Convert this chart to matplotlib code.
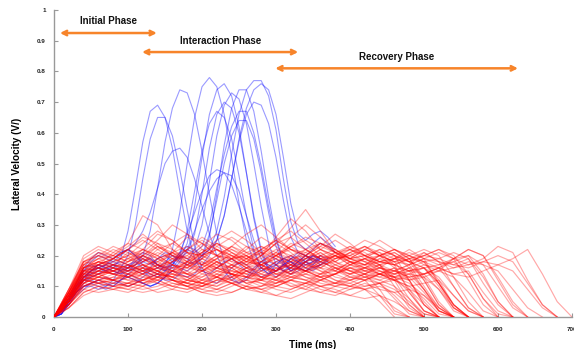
import numpy as np
import matplotlib
matplotlib.use('Agg')
import matplotlib.pyplot as plt

plt.rcParams['font.family'] = ['Liberation Sans', 'DejaVu Sans']
plt.rcParams['font.weight'] = 'bold'

# red trials, sampled every 20 ms from t = 0
red_step = 20
red_runs = [
    [0, .07, .16, .18, .17, .15, .16, .19, .21, .18, .15, .16, .19, .2, .17, .15, .17, .2, .18, .16, .17, .19, .17, .12, .04, 0],
    [0, .05, .13, .15, .14, .13, .15, .17, .16, .14, .13, .15, .17, .15, .13, .14, .16, .15, .13, .14, .16, .14, .09, .02, 0],
    [0, .09, .18, .17, .15, .16, .2, .24, .22, .18, .17, .2, .23, .21, .18, .2, .24, .22, .19, .18, .21, .23, .2, .18, .19, .13, .05, 0],
    [0, .04, .11, .13, .12, .11, .12, .14, .13, .11, .1, .12, .14, .12, .1, .11, .13, .12, .1, .11, .13, .12, .07, .01, 0],
    [0, .06, .14, .16, .18, .2, .22, .2, .17, .16, .19, .22, .2, .17, .18, .21, .19, .16, .17, .2, .18, .16, .17, .18, .12, .04, 0],
    [0, .08, .15, .14, .12, .13, .16, .15, .12, .1, .12, .15, .14, .11, .12, .16, .17, .14, .12, .14, .16, .14, .13, .15, .14, .09, .02, 0],
    [0, .06, .14, .17, .21, .24, .22, .19, .21, .26, .24, .2, .18, .21, .23, .2, .17, .19, .22, .2, .17, .16, .18, .17, .15, .16, .11, .03, 0],
    [0, .05, .12, .11, .1, .11, .13, .12, .1, .09, .11, .13, .11, .09, .1, .12, .11, .09, .08, .1, .11, .09, .05, 0],
    [0, .07, .16, .19, .2, .18, .22, .27, .25, .21, .2, .24, .22, .19, .21, .25, .28, .24, .2, .19, .22, .2, .18, .19, .21, .19, .17, .18, .2, .14, .05, 0],
    [0, .06, .13, .14, .15, .17, .16, .14, .15, .18, .2, .18, .15, .14, .17, .19, .17, .15, .14, .16, .15, .13, .14, .16, .15, .14, .16, .19, .22, .2, .13, .05, 0],
    [0, .08, .18, .2, .19, .22, .26, .24, .2, .19, .23, .27, .25, .21, .2, .24, .26, .22, .19, .2, .23, .21, .18, .17, .19, .18, .12, .04, 0],
    [0, .04, .1, .12, .14, .13, .11, .12, .15, .14, .12, .11, .13, .15, .13, .11, .12, .14, .13, .11, .12, .13, .11, .06, .01, 0],
    [0, .07, .15, .16, .15, .17, .2, .18, .15, .14, .17, .2, .19, .16, .17, .2, .18, .15, .16, .19, .2, .18, .16, .15, .17, .19, .18, .16, .17, .19, .23, .21, .12, .04, 0],
    [0, .05, .12, .15, .17, .16, .18, .21, .19, .16, .15, .18, .16, .13, .14, .17, .19, .16, .14, .15, .18, .16, .14, .15, .17, .21, .18, .1, .03, 0],
    [0, .09, .17, .16, .14, .15, .19, .23, .21, .17, .16, .19, .22, .2, .16, .15, .18, .22, .24, .21, .18, .19, .22, .2, .16, .09, .02, 0],
    [0, .06, .13, .12, .11, .13, .15, .13, .11, .1, .12, .14, .12, .1, .09, .11, .13, .12, .1, .11, .14, .16, .14, .12, .13, .08, .02, 0],
    [0, .07, .14, .18, .2, .24, .33, .3, .22, .19, .21, .24, .21, .18, .19, .22, .2, .17, .18, .2, .19, .17, .18, .2, .18, .12, .04, 0],
    [0, .05, .11, .1, .09, .1, .12, .11, .09, .08, .1, .12, .13, .11, .09, .1, .12, .11, .09, .08, .1, .09, .07, .03, 0],
    [0, .08, .16, .17, .19, .22, .2, .17, .18, .22, .25, .22, .18, .17, .2, .24, .29, .35, .28, .21, .2, .22, .2, .18, .2, .22, .2, .13, .05, 0],
    [0, .06, .12, .13, .15, .14, .12, .13, .16, .18, .16, .13, .12, .15, .17, .15, .13, .14, .17, .15, .13, .12, .14, .13, .08, .02, 0],
    [0, .07, .15, .17, .16, .18, .21, .19, .16, .17, .21, .24, .21, .18, .17, .19, .23, .25, .22, .19, .2, .23, .21, .19, .18, .2, .19, .17, .16, .18, .17, .19, .22, .14, .05, 0],
    [0, .04, .09, .11, .12, .11, .1, .12, .14, .13, .1, .09, .11, .13, .12, .1, .09, .11, .12, .1, .09, .1, .11, .09, .05, .01, 0],
    [0, .08, .17, .19, .17, .16, .18, .22, .24, .21, .17, .16, .19, .23, .21, .17, .16, .2, .24, .22, .19, .2, .17, .1, .03, 0],
    [0, .05, .12, .14, .16, .15, .13, .15, .18, .2, .17, .14, .13, .16, .18, .16, .14, .15, .18, .2, .17, .15, .16, .19, .22, .19, .11, .04, 0],
    [0, .07, .14, .13, .12, .14, .17, .15, .13, .12, .15, .18, .16, .13, .12, .15, .2, .22, .19, .15, .14, .16, .15, .13, .14, .13, .15, .19, .22, .2, .12, .04, 0],
    [0, .06, .16, .18, .16, .14, .15, .18, .2, .17, .14, .13, .16, .19, .17, .14, .15, .18, .21, .18, .15, .16, .19, .17, .15, .16, .1, .03, 0],
    [0, .09, .18, .2, .23, .21, .18, .2, .24, .27, .24, .2, .19, .22, .26, .23, .19, .2, .23, .21, .18, .17, .2, .22, .19, .12, .04, 0],
    [0, .03, .08, .1, .11, .1, .09, .1, .12, .11, .09, .08, .1, .12, .11, .09, .08, .1, .12, .11, .1, .12, .14, .12, .09, .04, 0],
    [0, .06, .14, .16, .14, .13, .16, .19, .17, .14, .15, .18, .2, .17, .14, .13, .16, .19, .21, .18, .16, .17, .2, .22, .2, .17, .16, .18, .14, .06, .01, 0],
    [0, .07, .15, .14, .15, .18, .2, .17, .15, .16, .2, .22, .19, .16, .15, .18, .2, .18, .15, .14, .17, .19, .17, .13, .06, 0],
    [0, .05, .1, .12, .13, .12, .14, .16, .14, .12, .11, .13, .15, .14, .12, .13, .16, .18, .16, .13, .12, .14, .16, .14, .12, .13, .09, .03, 0],
    [0, .08, .16, .15, .17, .21, .19, .16, .15, .18, .22, .2, .17, .18, .22, .25, .22, .19, .18, .21, .23, .2, .18, .17, .19, .21, .18, .17, .19, .13, .05, 0],
    [0, .06, .13, .15, .14, .12, .11, .13, .15, .13, .11, .1, .12, .15, .16, .14, .12, .11, .13, .16, .14, .12, .11, .07, .02, 0],
    [0, .07, .15, .17, .19, .17, .15, .17, .21, .23, .2, .17, .16, .19, .22, .2, .17, .16, .19, .21, .19, .18, .2, .21, .18, .16, .11, .04, 0],
    [0, .04, .1, .11, .1, .09, .11, .13, .12, .1, .08, .09, .11, .1, .08, .07, .09, .11, .1, .08, .07, .09, .1, .08, .04, 0],
    [0, .08, .17, .21, .2, .18, .2, .23, .2, .18, .21, .25, .28, .25, .21, .2, .23, .26, .24, .21, .22, .25, .23, .2, .18, .2, .22, .2, .14, .06, 0],
    [0, .05, .13, .16, .15, .13, .14, .17, .15, .12, .11, .14, .17, .15, .12, .11, .14, .18, .2, .17, .15, .14, .17, .19, .17, .1, .03, 0],
    [0, .06, .12, .11, .12, .15, .17, .15, .12, .11, .14, .16, .14, .11, .12, .15, .17, .15, .13, .14, .17, .19, .16, .14, .15, .17, .15, .16, .18, .17, .15, .09, .03, 0],
    [0, .07, .16, .18, .17, .19, .22, .2, .17, .16, .19, .23, .26, .23, .2, .26, .32, .28, .22, .2, .22, .2, .18, .19, .2, .18, .11, .04, 0],
    [0, .05, .11, .13, .15, .17, .15, .13, .14, .17, .19, .17, .14, .13, .15, .18, .16, .13, .12, .14, .16, .15, .13, .12, .14, .16, .13, .07, .02, 0],
    [0, .03, .07, .09, .1, .09, .08, .09, .11, .1, .08, .07, .08, .1, .09, .07, .06, .08, .1, .09, .07, .06, .07, .05, .02, 0],
    [0, .08, .19, .22, .2, .23, .27, .23, .2, .22, .26, .23, .2, .19, .22, .25, .22, .2, .23, .27, .24, .2, .21, .17, .08, .02, 0],
    [0, .05, .12, .14, .12, .1, .12, .15, .17, .14, .11, .1, .13, .16, .14, .12, .14, .18, .2, .16, .13, .14, .16, .15, .13, .14, .15, .13, .08, .02, 0],
    [0, .06, .14, .13, .16, .19, .17, .14, .13, .17, .21, .18, .14, .13, .16, .2, .23, .2, .16, .15, .18, .17, .14, .13, .15, .09, .03, 0],
    [0, .04, .09, .08, .09, .11, .1, .08, .09, .12, .11, .09, .08, .1, .13, .12, .1, .11, .14, .12, .1, .09, .11, .12, .1, .06, .01, 0],
    [0, .07, .17, .2, .18, .2, .24, .28, .25, .21, .2, .22, .2, .18, .17, .2, .22, .2, .17, .18, .21, .23, .2, .16, .09, .02, 0],
    [0, .05, .11, .13, .12, .14, .16, .14, .12, .11, .13, .16, .19, .16, .13, .12, .15, .17, .15, .12, .11, .13, .15, .13, .12, .14, .16, .14, .13, .15, .17, .15, .09, .03, 0],
    [0, .06, .15, .18, .16, .15, .17, .15, .13, .15, .18, .16, .14, .16, .2, .24, .21, .17, .16, .19, .21, .18, .15, .14, .16, .18, .16, .1, .03, 0],
    [0, .09, .2, .23, .21, .19, .21, .25, .3, .27, .22, .2, .23, .27, .3, .26, .22, .21, .24, .22, .19, .2, .22, .2, .12, .04, 0],
    [0, .03, .08, .1, .09, .08, .1, .13, .12, .1, .09, .11, .14, .13, .11, .1, .12, .15, .13, .11, .1, .12, .14, .12, .1, .11, .12, .07, .02, 0],
    [0, .07, .14, .15, .17, .16, .14, .16, .19, .17, .15, .17, .21, .19, .16, .15, .18, .21, .19, .17, .19, .22, .2, .18, .17, .19, .21, .19, .17, .18, .2, .18, .11, .04, 0],
    [0, .05, .13, .17, .19, .17, .15, .16, .19, .22, .19, .16, .15, .18, .21, .19, .16, .15, .17, .2, .18, .15, .14, .16, .12, .05, 0],
    [0, .06, .12, .11, .13, .16, .14, .11, .1, .12, .15, .13, .11, .12, .15, .13, .1, .09, .12, .14, .12, .1, .11, .13, .11, .07, .02, 0],
    [0, .08, .16, .19, .22, .2, .17, .18, .21, .19, .17, .19, .23, .2, .18, .21, .26, .3, .26, .21, .19, .22, .25, .22, .19, .2, .22, .19, .12, .04, 0],
    [0, .04, .1, .12, .11, .1, .12, .14, .13, .11, .1, .12, .11, .09, .1, .13, .15, .13, .11, .1, .12, .14, .12, .1, .06, .01, 0],
    [0, .07, .15, .16, .19, .22, .19, .16, .18, .21, .18, .15, .14, .17, .2, .17, .14, .16, .2, .22, .19, .17, .19, .21, .18, .16, .17, .19, .2, .17, .1, .03, 0],
    [0, .05, .12, .15, .14, .16, .19, .17, .14, .13, .16, .19, .17, .14, .13, .16, .14, .12, .14, .17, .15, .13, .12, .14, .16, .14, .09, .02, 0],
    [0, .06, .13, .12, .1, .11, .14, .12, .1, .09, .1, .13, .11, .09, .08, .1, .12, .1, .08, .07, .09, .11, .09, .08, .09, .07, .03, 0],
    [0, .08, .18, .21, .19, .22, .25, .22, .19, .2, .24, .22, .19, .2, .23, .21, .18, .19, .22, .25, .22, .19, .2, .22, .2, .18, .19, .21, .19, .11, .04, 0],
    [0, .05, .11, .14, .16, .14, .12, .14, .17, .15, .12, .13, .17, .2, .17, .14, .13, .15, .18, .16, .14, .15, .17, .15, .13, .14, .16, .14, .15, .08, .02, 0],
]

# blue trials, sampled every 10 ms from t = 0
blue_step = 10
blue_runs = [
    [0, .02, .06, .11, .15, .17, .16, .15, .16, .19, .28, .42, .57, .67, .69, .65, .55, .41, .28, .19, .15, .14, .16, .18, .19, .17, .15, .14, .16, .18, .17, .15, .14, .15, .17, .18],
    [0, .02, .05, .1, .12, .12, .11, .1, .12, .16, .2, .3, .45, .58, .65, .65, .59, .48, .35, .23, .16, .12, .11, .13, .16, .18, .17, .15, .13, .14, .17, .19, .18, .16, .15, .17, .2],
    [0, .01, .05, .09, .13, .15, .16, .17, .19, .21, .22, .24, .28, .34, .42, .5, .54, .55, .52, .45, .36, .27, .2, .15, .12, .11, .13, .16, .18, .17, .15, .16, .19, .21, .2, .18, .19],
    [0, .02, .06, .1, .13, .14, .15, .17, .18, .17, .16, .17, .2, .28, .42, .57, .68, .74, .73, .66, .54, .4, .27, .18, .13, .11, .12, .15, .18, .2, .19, .17, .16, .18, .2, .19],
    [0, .02, .05, .08, .1, .11, .12, .11, .1, .12, .14, .16, .15, .13, .14, .17, .22, .34, .5, .65, .75, .78, .75, .66, .52, .37, .25, .18, .15, .16, .18, .19, .18, .17, .18, .2, .19],
    [0, .01, .04, .08, .12, .15, .17, .18, .17, .16, .15, .16, .18, .19, .17, .16, .17, .2, .28, .41, .54, .63, .67, .65, .58, .46, .33, .22, .16, .14, .15, .17, .19, .2, .18, .17, .19],
    [0, .02, .05, .08, .1, .1, .09, .1, .11, .12, .13, .12, .11, .1, .11, .13, .17, .21, .27, .34, .41, .46, .48, .47, .43, .36, .28, .21, .16, .14, .15, .17, .18, .16, .15, .16, .17],
    [0, .02, .05, .09, .12, .13, .14, .16, .17, .15, .13, .12, .11, .1, .11, .13, .15, .18, .22, .28, .35, .41, .45, .47, .46, .41, .33, .25, .19, .16, .17, .19, .2, .18, .17, .18, .2, .19],
    [0, .01, .05, .1, .15, .18, .2, .19, .18, .2, .22, .2, .17, .15, .16, .18, .2, .19, .24, .36, .52, .66, .74, .76, .72, .62, .47, .32, .21, .15, .13, .15, .17, .19, .18, .16, .17, .19],
    [0, .02, .06, .1, .14, .16, .17, .16, .15, .14, .16, .19, .21, .2, .17, .15, .16, .19, .21, .27, .4, .55, .66, .7, .68, .6, .47, .33, .22, .16, .15, .17, .19, .18, .16, .15, .17],
    [0, .01, .04, .07, .09, .11, .12, .13, .12, .11, .1, .11, .13, .15, .14, .12, .12, .14, .18, .22, .3, .44, .59, .69, .73, .71, .63, .5, .36, .24, .17, .15, .16, .18, .2, .19, .17, .18],
    [0, .02, .06, .1, .13, .15, .16, .15, .14, .15, .17, .18, .16, .14, .13, .15, .18, .2, .19, .17, .19, .26, .4, .56, .68, .74, .74, .67, .54, .39, .26, .18, .15, .16, .18, .2, .19, .18],
    [0, .02, .06, .11, .16, .19, .21, .2, .19, .21, .22, .2, .18, .17, .19, .21, .2, .18, .17, .18, .2, .27, .38, .5, .59, .64, .64, .58, .47, .34, .23, .17, .15, .16, .18, .19, .18, .17],
    [0, .01, .05, .09, .13, .15, .17, .16, .15, .14, .15, .17, .19, .18, .16, .15, .17, .2, .22, .21, .23, .3, .42, .53, .62, .67, .67, .6, .49, .36, .25, .18, .15, .17, .19, .2, .18],
    [0, .02, .05, .08, .1, .11, .1, .09, .1, .12, .14, .13, .11, .1, .11, .13, .15, .14, .13, .14, .17, .2, .25, .33, .45, .57, .66, .7, .69, .63, .52, .38, .26, .21, .2, .22, .24, .23, .21],
    [0, .02, .05, .09, .12, .14, .16, .17, .16, .15, .16, .18, .2, .19, .17, .16, .18, .21, .23, .22, .2, .22, .28, .39, .53, .66, .74, .77, .77, .72, .61, .45, .31, .24, .22, .24, .26, .24, .22],
    [0, .01, .04, .08, .11, .13, .14, .15, .17, .18, .17, .15, .14, .16, .19, .2, .18, .16, .15, .17, .2, .22, .25, .33, .45, .58, .68, .74, .76, .74, .66, .52, .37, .27, .25, .27, .28, .26, .23],
]

x_ticks = [0, 100, 200, 300, 400, 500, 600, 700]
y_ticks = [0, 0.1, 0.2, 0.3, 0.4, 0.5, 0.6, 0.7, 0.8, 0.9, 1]
y_tick_labels = ['0', '0.1', '0.2', '0.3', '0.4', '0.5', '0.6', '0.7', '0.8', '0.9', '1']

# phase spans: (label, start ms, end ms, arrow level, label level)
phases = [
    ('Initial Phase', 8, 139, 0.925, 0.964),
    ('Interaction Phase', 119, 330, 0.863, 0.899),
    ('Recovery Phase', 299, 627, 0.81, 0.847),
]

fig = plt.figure(figsize=(5.74, 3.49), dpi=100)
ax = fig.add_axes([54 / 574, 32 / 349, 518 / 574, 307 / 349])

for v in blue_runs:
    t = np.arange(len(v)) * blue_step
    ax.plot(t, v, color='#1010ff', alpha=0.42, lw=0.8, solid_joinstyle='round', zorder=2)
for v in red_runs:
    t = np.arange(len(v)) * red_step
    ax.plot(t, v, color='#ff0000', alpha=0.34, lw=0.85, solid_joinstyle='round', zorder=3)

orange = '#f7842a'
for label, t0, t1, y_arrow, y_text in phases:
    ax.annotate('', xy=(t1, y_arrow), xytext=(t0, y_arrow),
                arrowprops=dict(arrowstyle='<->', color=orange, lw=1.8,
                                mutation_scale=8, shrinkA=0, shrinkB=0))
    ax.text((t0 + t1) / 2, y_text, label, ha='center', va='center',
            fontsize=7, fontweight='bold', color='#111111')

ax.set_xlim(0, 700)
ax.set_ylim(0, 1)
ax.set_xticks(x_ticks)
ax.set_xticklabels([str(x) for x in x_ticks])
ax.set_yticks(y_ticks)
ax.set_yticklabels(y_tick_labels)
ax.tick_params(direction='in', length=3, width=0.8, color='#999999',
               labelsize=4.5, labelcolor='#222222')
ax.tick_params(axis='y', pad=6)
ax.tick_params(axis='x', pad=7)
for lbl in ax.get_xticklabels() + ax.get_yticklabels():
    lbl.set_fontweight('bold')

for side in ['top', 'right']:
    ax.spines[side].set_visible(False)
for side in ['left', 'bottom']:
    ax.spines[side].set_color('#999999')
    ax.spines[side].set_linewidth(1.0)

ax.set_xlabel('Time (ms)', fontsize=7.2, fontweight='bold', labelpad=6)
ax.set_ylabel('Lateral Velocity (V/)', fontsize=7.2, fontweight='bold', labelpad=11)

fig.savefig('out.png', dpi=100)
